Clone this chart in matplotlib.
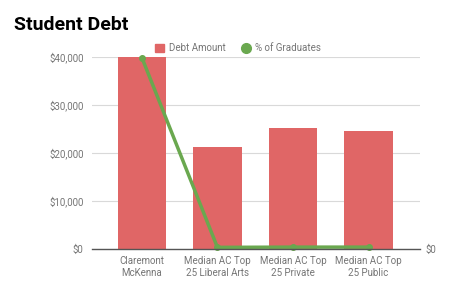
import matplotlib.pyplot as plt
from matplotlib.ticker import FuncFormatter

categories = ['Claremont\nMcKenna', 'Median AC Top\n25 Liberal Arts',
              'Median AC Top\n25 Private', 'Median AC Top\n25 Public']
debt_amount = [40000, 21150, 25250, 24600]
pct_graduates = [39800, 350, 400, 400]
y_ticks = [0, 10000, 20000, 30000, 40000]

red = '#e06666'
green = '#6aa84f'
grey_text = '#757575'

plt.rcParams['font.family'] = ['Roboto', 'DejaVu Sans']

fig = plt.figure(figsize=(4.74, 2.93), dpi=100)
ax = fig.add_axes([0.194, 0.150, 0.692, 0.657])

x = list(range(len(categories)))
ax.bar(x, debt_amount, width=0.64, color=red, zorder=2, label='Debt Amount')
ax.plot(x, pct_graduates, color=green, linewidth=2.5, marker='o', markersize=4,
        zorder=3, clip_on=False, label='% of Graduates')

ax.set_xlim(-0.66, 3.68)
ax.set_ylim(0, 40000)
ax.set_yticks(y_ticks)
ax.yaxis.set_major_formatter(FuncFormatter(lambda v, p: '${:,.0f}'.format(v)))
ax.set_xticks(x)
ax.set_xticklabels(categories, fontsize=7, color=grey_text, linespacing=1.3)
ax.tick_params(axis='y', labelsize=7, labelcolor=grey_text, length=0, pad=6)
ax.tick_params(axis='x', length=0, pad=5)
ax.grid(axis='y', color='#d9d9d9', linewidth=0.8, zorder=0)
for s in ['top', 'right', 'left']:
    ax.spines[s].set_visible(False)
ax.spines['bottom'].set_color('#555555')
ax.spines['bottom'].set_linewidth(1.0)
ax.spines['bottom'].set_zorder(4)

ax2 = ax.twinx()
ax2.set_ylim(0, 40000)
ax2.set_yticks([0])
ax2.set_yticklabels(['$0'])
ax2.tick_params(axis='y', labelsize=7, labelcolor=grey_text, length=0, pad=4)
for s in ['top', 'right', 'left', 'bottom']:
    ax2.spines[s].set_visible(False)

handles = [plt.Rectangle((0, 0), 1, 1, color=red),
           plt.Line2D([], [], color=green, marker='o', linestyle='None', markersize=7)]
fig.legend(handles, ['Debt Amount', '% of Graduates'], loc='center',
           bbox_to_anchor=(0.502, 0.835), ncol=2, frameon=False, fontsize=7,
           labelcolor=grey_text, handlelength=1.0, handleheight=1.0,
           handletextpad=0.5, columnspacing=1.5)

fig.text(0.029, 0.913, 'Student Debt', fontsize=14, fontweight='bold', color='black',
         va='center', ha='left')

fig.savefig('out.png', dpi=100)
